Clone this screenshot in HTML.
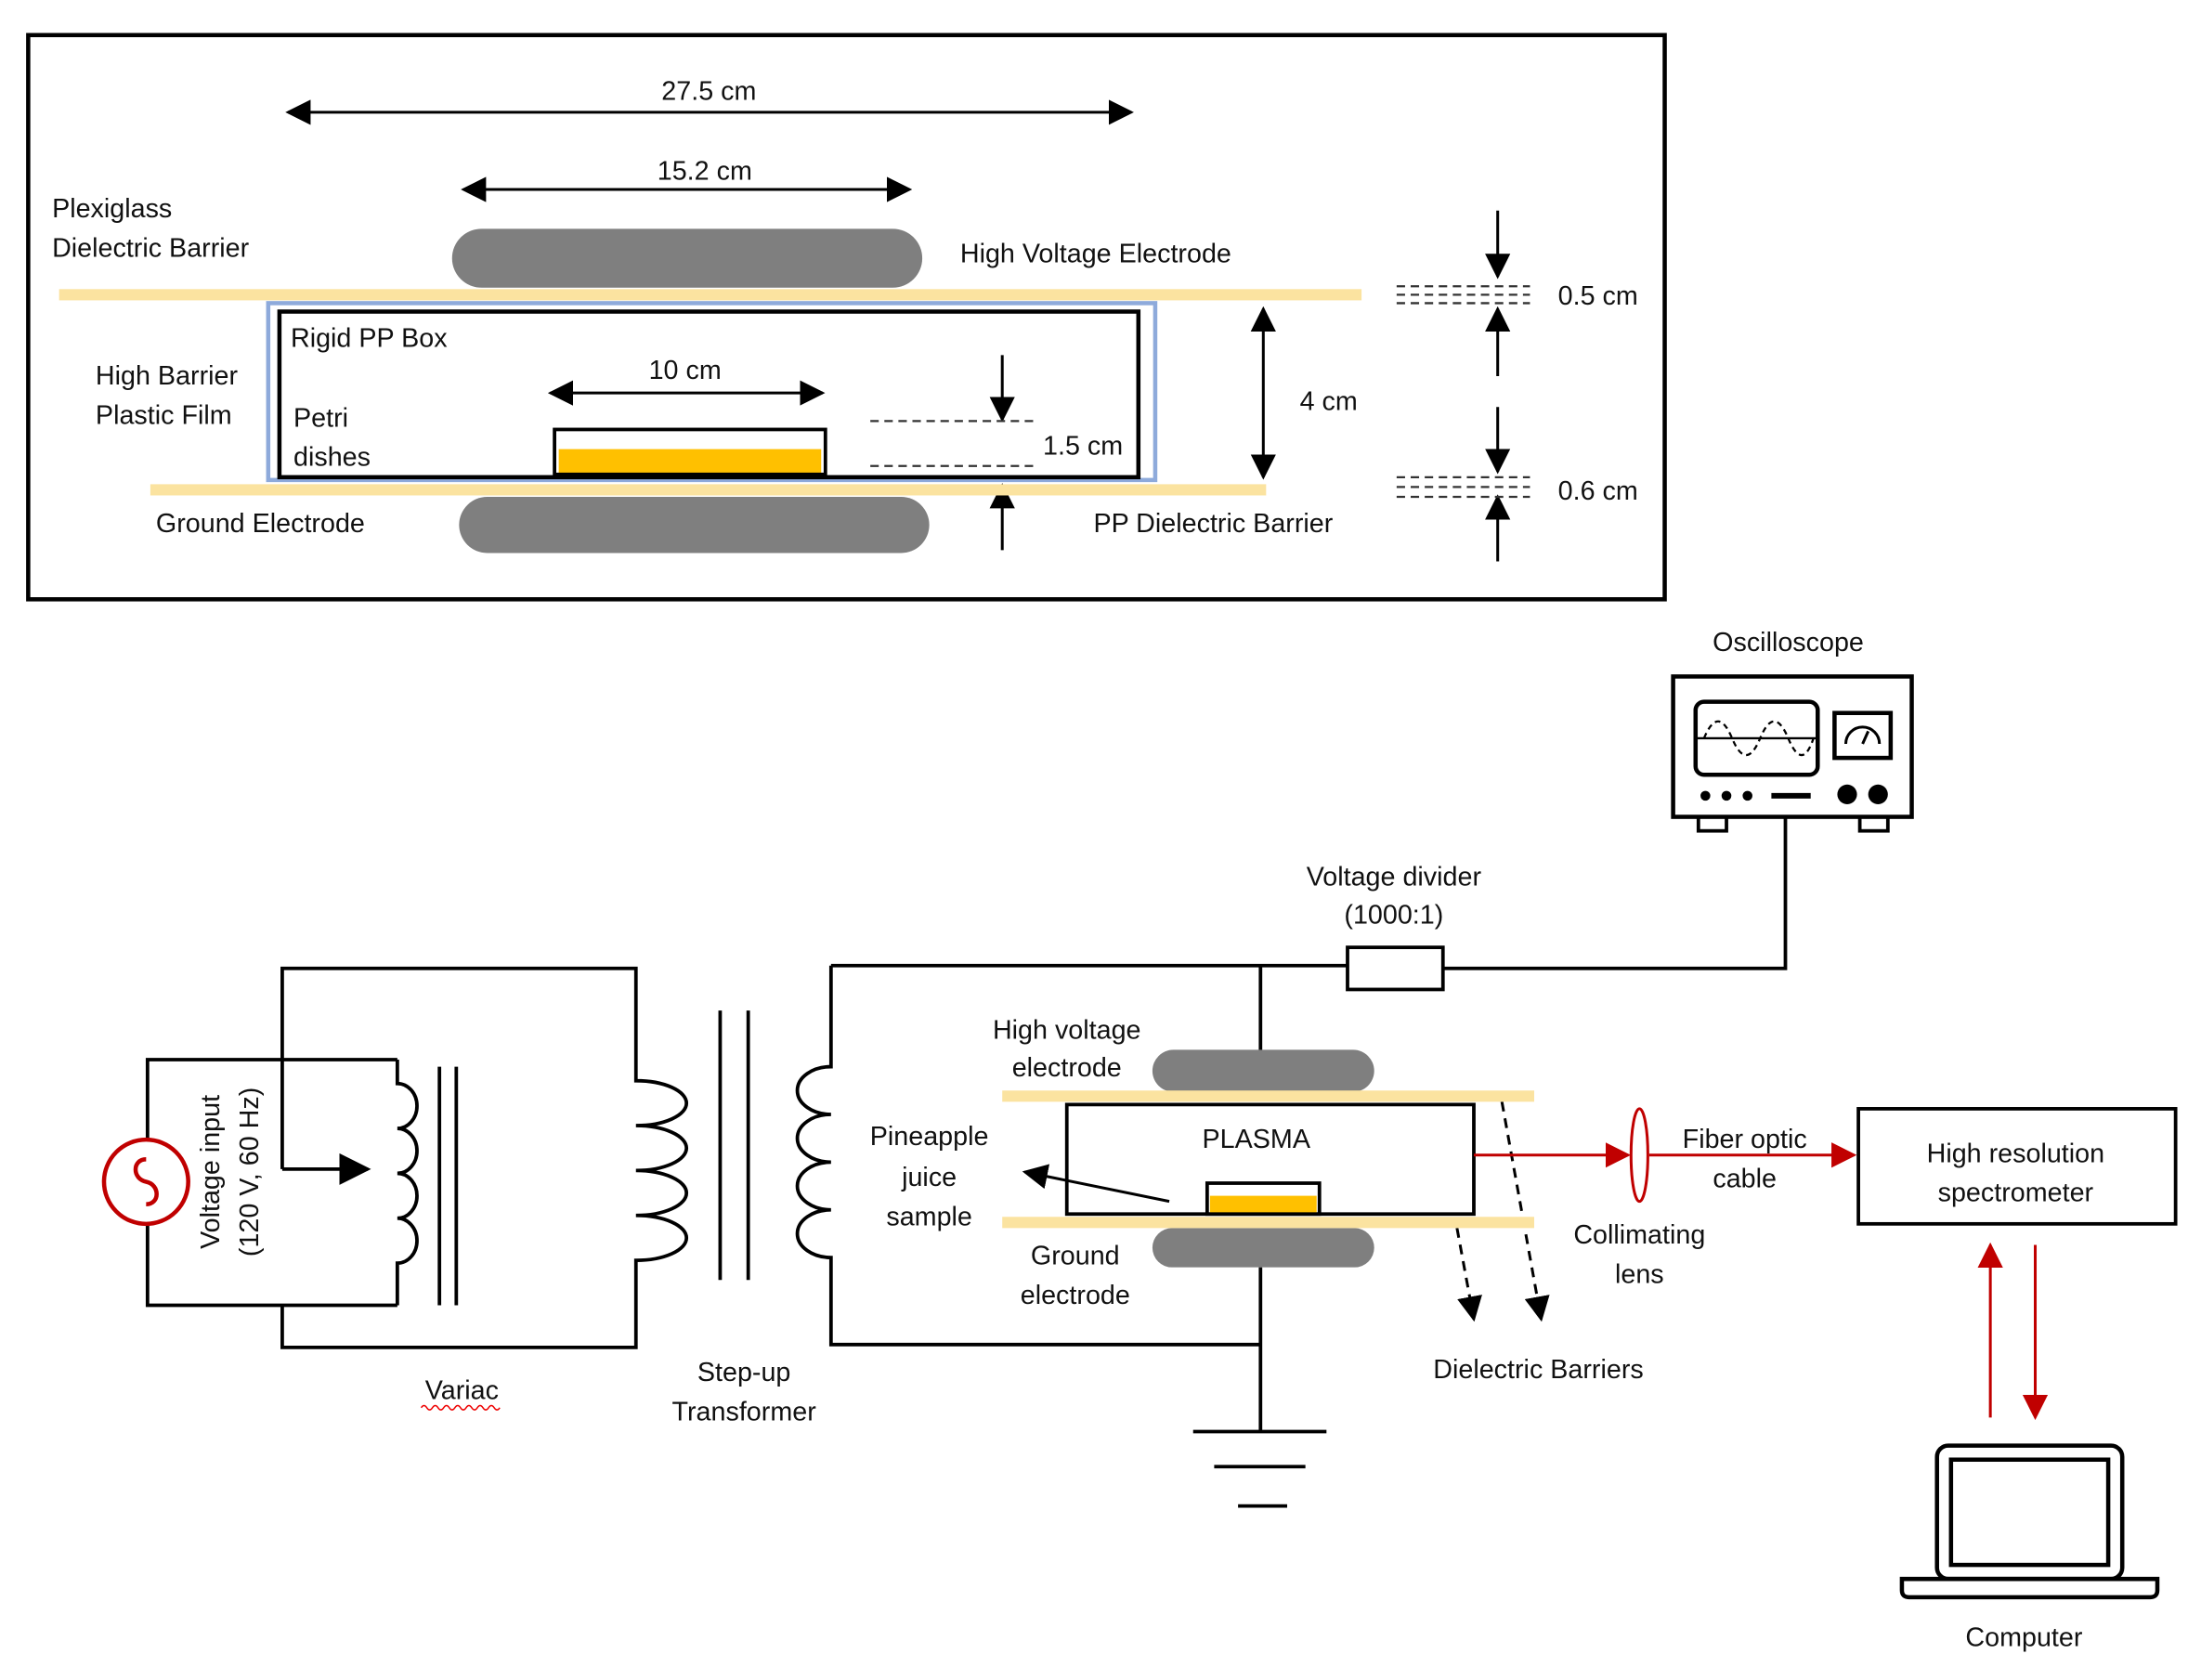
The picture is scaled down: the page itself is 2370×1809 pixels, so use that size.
<!DOCTYPE html>
<html><head><meta charset="utf-8"><style>
html,body{margin:0;padding:0;background:#fff}
svg{display:block}
text{font-family:"Liberation Sans",sans-serif;font-size:19px;fill:#111;font-weight:500}
</style></head><body>
<svg width="2370" height="1809" viewBox="0 0 1568 1197" xmlns="http://www.w3.org/2000/svg">
<defs>
<marker id="a" viewBox="0 0 10 10" refX="9" refY="5" markerWidth="9" markerHeight="9" orient="auto-start-reverse"><path d="M0,0L10,5L0,10z" fill="#000"/></marker>
<marker id="r" viewBox="0 0 10 10" refX="9" refY="5" markerWidth="9" markerHeight="9" orient="auto-start-reverse"><path d="M0,0L10,5L0,10z" fill="#c00000"/></marker>
</defs>
<rect width="1568" height="1197" fill="#fff"/>
<rect x="20" y="25" width="1166" height="402" fill="none" stroke="#000" stroke-width="3"/>
<g stroke="#000" stroke-width="2" fill="none">
<line x1="205" y1="80" x2="806" y2="80" marker-start="url(#a)" marker-end="url(#a)"/>
<line x1="330" y1="135" x2="648" y2="135" marker-start="url(#a)" marker-end="url(#a)"/>
<line x1="392" y1="280" x2="586" y2="280" marker-start="url(#a)" marker-end="url(#a)"/>
<line x1="714" y1="253" x2="714" y2="299" marker-end="url(#a)"/>
<line x1="714" y1="392" x2="714" y2="346" marker-end="url(#a)"/>
<line x1="900" y1="220" x2="900" y2="340" marker-start="url(#a)" marker-end="url(#a)"/>
<line x1="1067" y1="150" x2="1067" y2="197" marker-end="url(#a)"/>
<line x1="1067" y1="268" x2="1067" y2="220" marker-end="url(#a)"/>
<line x1="1067" y1="290" x2="1067" y2="336" marker-end="url(#a)"/>
<line x1="1067" y1="400" x2="1067" y2="354" marker-end="url(#a)"/>
</g>
<g stroke="#333" stroke-width="1.5" stroke-dasharray="6,4">
<line x1="620" y1="300" x2="740" y2="300"/><line x1="620" y1="332" x2="740" y2="332"/>
<line x1="995" y1="204" x2="1090" y2="204"/><line x1="995" y1="210" x2="1090" y2="210"/><line x1="995" y1="216" x2="1090" y2="216"/>
<line x1="995" y1="340" x2="1090" y2="340"/><line x1="995" y1="347" x2="1090" y2="347"/><line x1="995" y1="354" x2="1090" y2="354"/>
</g>
<rect x="322" y="163" width="335" height="42" rx="21" fill="#7f7f7f"/>
<rect x="327" y="354" width="335" height="40" rx="20" fill="#7f7f7f"/>
<rect x="42" y="206" width="928" height="8" fill="#fbe3a0"/>
<rect x="107" y="345" width="795" height="8" fill="#fbe3a0"/>
<rect x="191" y="216" width="632" height="126" fill="none" stroke="#8eaadb" stroke-width="3"/>
<rect x="199" y="222" width="612" height="118" fill="none" stroke="#000" stroke-width="3"/>
<rect x="398" y="320" width="187" height="17" fill="#ffc000"/>
<rect x="395" y="306" width="193" height="32" fill="none" stroke="#000" stroke-width="2.5"/>
<text x="505" y="71" text-anchor="middle">27.5 cm</text>
<text x="502" y="128" text-anchor="middle">15.2 cm</text>
<text x="488" y="270" text-anchor="middle">10 cm</text>
<text x="37" y="155">Plexiglass</text>
<text x="37" y="183">Dielectric Barrier</text>
<text x="684" y="187">High Voltage Electrode</text>
<text x="207" y="247">Rigid PP Box</text>
<text x="68" y="274">High Barrier</text>
<text x="68" y="302">Plastic Film</text>
<text x="209" y="304">Petri</text>
<text x="209" y="332">dishes</text>
<text x="743" y="324">1.5 cm</text>
<text x="926" y="292">4 cm</text>
<text x="1110" y="217">0.5 cm</text>
<text x="1110" y="356">0.6 cm</text>
<text x="111" y="379">Ground Electrode</text>
<text x="779" y="379">PP Dielectric Barrier</text>
<g stroke="#000" stroke-width="2.5" fill="none">
<path d="M105,812V755H283 M105,872V930H283"/>
<path d="M283,755V772 a14,16 0 0 1 0,32 a14,16 0 0 1 0,32 a14,16 0 0 1 0,32 a14,16 0 0 1 0,32 V930"/>
<path d="M201,833V690H453V770 a36,16 0 0 1 0,32 a36,16 0 0 1 0,32 a36,16 0 0 1 0,32 a36,16 0 0 1 0,32 V960H201V930"/>
<line x1="201" y1="833" x2="262" y2="833" marker-end="url(#a)"/>
<line x1="313" y1="760" x2="313" y2="930"/><line x1="325" y1="760" x2="325" y2="930"/>
<line x1="513" y1="720" x2="513" y2="912"/><line x1="533" y1="720" x2="533" y2="912"/>
<path d="M592,688V760 a24,17 0 0 0 0,34 a24,17 0 0 0 0,34 a24,17 0 0 0 0,34 a24,17 0 0 0 0,34 V958H898"/>
<path d="M592,688H960 M898,688V750 M1028,690H1272V583"/>
<rect x="960" y="675" width="68" height="30"/>
<path d="M898,903V1020 M850,1020H945 M865,1045H930 M882,1073H917"/>
<rect x="760" y="787" width="290" height="78"/>
<line x1="833" y1="856" x2="730" y2="835" stroke-width="2" marker-end="url(#a)"/>
<g stroke-width="2" stroke-dasharray="7,5"><line x1="1070" y1="785" x2="1098" y2="940" marker-end="url(#a)"/><line x1="1038" y1="875" x2="1050" y2="940" marker-end="url(#a)"/></g>
</g>
<circle cx="104" cy="842" r="30" fill="#fff" stroke="#c00000" stroke-width="3"/>
<path d="M104,826 c-10,0 -10,14 0,16 c10,2 10,16 0,16" fill="none" stroke="#c00000" stroke-width="3"/>
<rect x="821" y="748" width="158" height="30" rx="15" fill="#7f7f7f"/>
<rect x="821" y="875" width="158" height="28" rx="14" fill="#7f7f7f"/>
<rect x="714" y="777" width="379" height="8" fill="#fbe3a0"/>
<rect x="714" y="867" width="379" height="8" fill="#fbe3a0"/>
<rect x="862" y="852" width="76" height="12" fill="#ffc000"/>
<rect x="860" y="843" width="80" height="22" fill="none" stroke="#000" stroke-width="2.5"/>
<g stroke="#c00000" stroke-width="2" fill="none">
<line x1="1050" y1="823" x2="1160" y2="823" marker-end="url(#r)"/>
<ellipse cx="1168" cy="823" rx="6" ry="33"/>
<line x1="1175" y1="823" x2="1321" y2="823" marker-end="url(#r)"/>
<line x1="1418" y1="1010" x2="1418" y2="887" marker-end="url(#r)"/>
<line x1="1450" y1="887" x2="1450" y2="1010" marker-end="url(#r)"/>
</g>
<rect x="1324" y="790" width="226" height="82" fill="none" stroke="#000" stroke-width="2.5"/>
<g stroke="#000" stroke-width="3" fill="none">
<rect x="1192" y="482" width="170" height="100"/>
<rect x="1210" y="582" width="20" height="10" stroke-width="2.5"/><rect x="1325" y="582" width="20" height="10" stroke-width="2.5"/>
<rect x="1208" y="500" width="87" height="52" rx="6"/>
<path d="M1214,526 q10,-24 20,0 t20,0 t20,0 t18,0" stroke-width="1.5" stroke-dasharray="4,3"/>
<line x1="1208" y1="526" x2="1295" y2="526" stroke-width="1.5"/>
<rect x="1307" y="508" width="40" height="32"/>
<path d="M1315,530 a12,12 0 0 1 24,0 M1327,530 l4,-9" stroke-width="2"/>
<line x1="1262" y1="567" x2="1290" y2="567" stroke-width="4"/>
</g>
<g fill="#000"><circle cx="1316" cy="566" r="7"/><circle cx="1338" cy="566" r="7"/><circle cx="1215" cy="567" r="3.5"/><circle cx="1230" cy="567" r="3.5"/><circle cx="1245" cy="567" r="3.5"/></g>
<g stroke="#000" stroke-width="3" fill="none">
<rect x="1380" y="1030" width="132" height="95" rx="8"/>
<rect x="1390" y="1040" width="112" height="75"/>
<path d="M1355,1125H1537V1133q0,5 -5,5H1360q-5,0 -5,-5z"/>
</g>
<g text-anchor="middle">
<text x="1274" y="464">Oscilloscope</text>
<text x="993" y="631">Voltage divider</text>
<text x="993" y="658">(1000:1)</text>
<text x="760" y="740">High voltage</text>
<text x="760" y="767">electrode</text>
<text x="895" y="818">PLASMA</text>
<text x="662" y="816">Pineapple</text>
<text x="662" y="845">juice</text>
<text x="662" y="873">sample</text>
<text x="766" y="901">Ground</text>
<text x="766" y="929">electrode</text>
<text x="1243" y="818">Fiber optic</text>
<text x="1243" y="846">cable</text>
<text x="1168" y="886">Collimating</text>
<text x="1168" y="914">lens</text>
<text x="1436" y="828">High resolution</text>
<text x="1436" y="856">spectrometer</text>
<text x="1096" y="982">Dielectric Barriers</text>
<text x="530" y="984">Step-up</text>
<text x="530" y="1012">Transformer</text>
<text x="329" y="997">Variac</text>
<text x="1442" y="1173">Computer</text>
<text transform="translate(156,835) rotate(-90)">Voltage input</text>
<text transform="translate(184,835) rotate(-90)">(120 V, 60 Hz)</text>
</g>
<path d="M300,1003 q2,-3 4,0 t4,0 t4,0 t4,0 t4,0 t4,0 t4,0 t4,0 t4,0 t4,0 t4,0 t4,0 t4,0 t4,0" fill="none" stroke="#e00" stroke-width="1"/>
</svg>
</body></html>
